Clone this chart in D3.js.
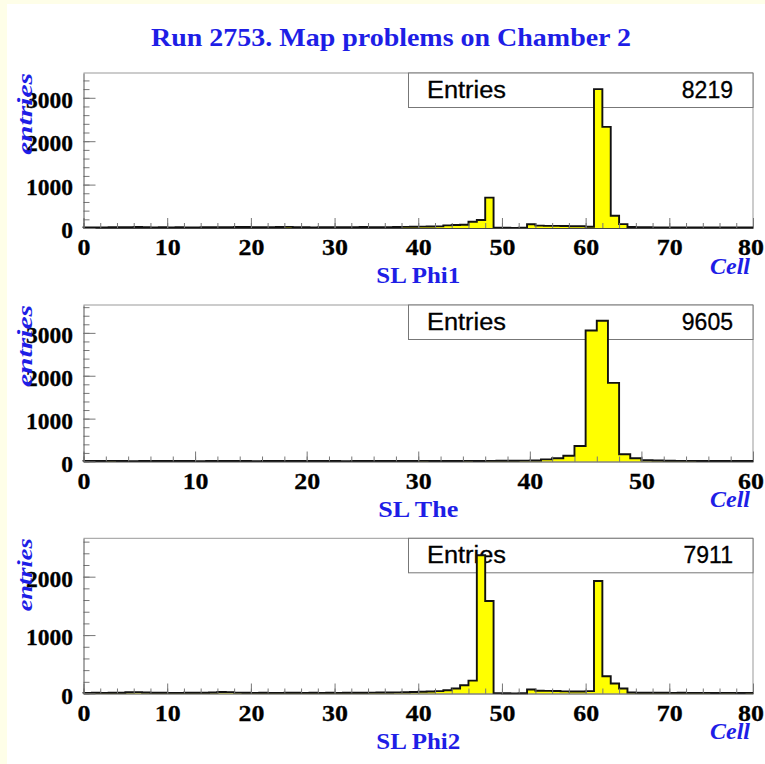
<!DOCTYPE html>
<html><head><meta charset="utf-8">
<script src="https://cdn.jsdelivr.net/npm/d3@7"></script>
<style>body{margin:0;background:#fefee8}svg{display:block}</style>
</head><body>
<script>
// ---------------- data ----------------
const chartTitle = "Run 2753. Map problems on Chamber 2";
const panelNames = ["SL Phi1", "SL The", "SL Phi2"];
const xAxisName = "Cell";
const yAxisName = "entries";
const entryCounts = ["8219", "9605", "7911"];
const cellRanges = [80, 60, 80];
const yAxisMax = [3571, 3650, 2657];
const xMajorTicks = [[0,10,20,30,40,50,60,70,80],[0,10,20,30,40,50,60],[0,10,20,30,40,50,60,70,80]];
const yMajorTicks = [[0,1000,2000,3000],[0,1000,2000,3000],[0,1000,2000]];

const phi1Counts = [
  12,15,14,18,16,20,22,18,15,17, 14,16,13,15,18,20,17,19,22,24,
  20,18,16,22,25,20,18,15,17,19, 16,18,20,22,19,17,21,24,26,28,
  32,35,38,60,68,75,145,185,700,8, 5,4,6,85,55,50,48,45,42,40,
  30,3200,2330,283,90,22,18,16,15,14, 13,12,14,12,11,12,10,11,12,10
];
const theCounts = [
  12,10,14,11,9,13,12,10,11,12, 9,10,12,11,10,9,12,13,11,10,
  12,11,10,9,11,13,12,10,11,12, 14,12,11,13,15,12,14,16,18,20,
  22,50,75,135,360,3056,3283,1834,168,75, 30,22,18,15,14,12,13,11,10,12
];
const phi2Counts = [
  10,12,11,13,14,22,24,18,14,12, 11,10,12,13,14,18,26,24,15,12,
  11,12,10,11,13,12,11,12,10,12, 11,13,12,14,15,16,18,20,22,25,
  30,35,40,56,85,141,221,2368,1584,6, 4,3,5,68,48,45,42,36,34,35,
  40,1925,295,170,85,16,14,13,12,12, 11,12,10,11,10,9,11,10,9,10
];
const panelCounts = [phi1Counts, theCounts, phi2Counts];

// ---------------- layout ----------------
const W = 765, H = 764;
const plotLeft = 83.5, plotRight = 753;
const plotTops = [73, 305, 538.3];
const plotBottoms = [228, 461.5, 693.5];
const entriesLen = [82, 82, 73];
const nameLen = [84, 80, 84];
const BLUE = "#1e1ee6";
const SERIF = "'Liberation Serif','Times New Roman',serif";
const SANS = "'Liberation Sans',Arial,Helvetica,sans-serif";

const svg = d3.select("body").append("svg").attr("width", W).attr("height", H);
svg.append("rect").attr("x", 0).attr("y", 0).attr("width", W).attr("height", H).attr("fill", "#fefee8");
svg.append("rect").attr("x", 7).attr("y", 4).attr("width", W - 7).attr("height", H - 4).attr("fill", "#ffffff");

svg.append("text").attr("x", 391).attr("y", 46)
  .attr("text-anchor", "middle").attr("font-family", SERIF).attr("font-weight", "bold")
  .attr("font-size", 26).attr("fill", BLUE)
  .attr("textLength", 480).attr("lengthAdjust", "spacingAndGlyphs")
  .text(chartTitle);

panelCounts.forEach((counts, p) => {
  const top = plotTops[p], bottom = plotBottoms[p];
  const x = d3.scaleLinear().domain([0, cellRanges[p]]).range([plotLeft, plotRight]);
  const y = d3.scaleLinear().domain([0, yAxisMax[p]]).range([bottom, top]);
  const g = svg.append("g");

  // frame
  g.append("rect").attr("x", plotLeft).attr("y", top)
    .attr("width", plotRight - plotLeft).attr("height", bottom - top).attr("fill", "#fff");
  g.append("path").attr("d", `M${plotLeft},${top}H${plotRight}V${bottom}`)
    .attr("fill", "none").attr("stroke", "#999").attr("stroke-width", 1);

  // stats box
  const bx = 408.5, bh = 34.5;
  g.append("rect").attr("x", bx).attr("y", top).attr("width", plotRight - bx).attr("height", bh)
    .attr("fill", "#fff").attr("stroke", "#777").attr("stroke-width", 1);
  g.append("text").attr("x", 427).attr("y", top + 24.7)
    .attr("font-family", SANS).attr("font-size", 23).attr("fill", "#000")
    .attr("stroke", "#000").attr("stroke-width", 0.3)
    .attr("textLength", 79).attr("lengthAdjust", "spacingAndGlyphs").text("Entries");
  g.append("text").attr("x", 733).attr("y", top + 24.7).attr("text-anchor", "end")
    .attr("font-family", SANS).attr("font-size", 23).attr("fill", "#000")
    .attr("stroke", "#000").attr("stroke-width", 0.3).text(entryCounts[p]);

  // histogram
  const pts = [[0, 0]];
  counts.forEach((v, i) => { pts.push([i, v]); pts.push([i + 1, v]); });
  pts.push([cellRanges[p], 0]);
  g.append("path").datum(pts)
    .attr("d", d3.area().x(d => x(d[0])).y0(y(0)).y1(d => y(d[1])))
    .attr("fill", "#ffff00");
  g.append("path").datum(pts)
    .attr("d", d3.line().x(d => x(d[0])).y(d => y(d[1])))
    .attr("fill", "none").attr("stroke", "#111").attr("stroke-width", 1.9);

  // minor ticks
  const xMinor = d3.range(0, cellRanges[p] + 0.001, 2);
  const yMinor = d3.range(0, yAxisMax[p], 200);
  g.append("g").attr("transform", `translate(0,${bottom})`)
    .call(d3.axisBottom(x).tickValues(xMinor).tickSizeInner(-5).tickSizeOuter(0).tickFormat(""))
    .call(a => a.select(".domain").remove())
    .call(a => a.selectAll("line").attr("stroke", "#777"));
  g.append("g").attr("transform", `translate(${plotLeft},0)`)
    .call(d3.axisLeft(y).tickValues(yMinor).tickSizeInner(-6).tickSizeOuter(0).tickFormat(""))
    .call(a => a.select(".domain").remove())
    .call(a => a.selectAll("line").attr("stroke", "#777"));

  // major x axis
  const xMax = cellRanges[p];
  g.append("g").attr("transform", `translate(0,${bottom})`)
    .call(d3.axisBottom(x).tickValues(xMajorTicks[p]).tickSizeInner(-10).tickSizeOuter(0).tickPadding(10.2).tickFormat(d3.format("d")))
    .call(a => a.select(".domain").attr("stroke", "#444"))
    .call(a => a.selectAll("line").attr("stroke", "#777"))
    .call(a => a.selectAll("text").attr("font-family", SERIF).attr("font-weight", "bold")
      .attr("font-size", 24).attr("fill", "#000").attr("stroke", "#000").attr("stroke-width", 0.3)
      .attr("transform", "scale(1.08,1)"))
    .call(a => a.selectAll(".tick").filter(d => d === xMax).select("text")
      .attr("text-anchor", "end").attr("x", (W - 1.5 - plotRight) / 1.08));

  // major y axis
  g.append("g").attr("transform", `translate(${plotLeft},0)`)
    .call(d3.axisLeft(y).tickValues(yMajorTicks[p]).tickSizeInner(-12).tickSizeOuter(0).tickPadding(10.5).tickFormat(d3.format("d")))
    .call(a => a.select(".domain").attr("stroke", "#555"))
    .call(a => a.selectAll("line").attr("stroke", "#777"))
    .call(a => a.selectAll("text").attr("font-family", SERIF).attr("font-weight", "bold")
      .attr("font-size", 23.5).attr("fill", "#000").attr("stroke", "#000").attr("stroke-width", 0.3)
      .attr("dy", "0.41em"));

  // axis titles
  g.append("text").attr("x", (plotLeft + plotRight) / 2).attr("y", bottom + 55)
    .attr("text-anchor", "middle").attr("font-family", SERIF).attr("font-weight", "bold")
    .attr("font-size", 23).attr("fill", BLUE)
    .attr("textLength", nameLen[p]).attr("lengthAdjust", "spacingAndGlyphs")
    .text(panelNames[p]);
  g.append("text").attr("x", 750).attr("y", bottom + 45.5)
    .attr("text-anchor", "end").attr("font-family", SERIF).attr("font-weight", "bold")
    .attr("font-style", "italic").attr("font-size", 23).attr("fill", BLUE)
    .attr("textLength", 40).attr("lengthAdjust", "spacingAndGlyphs").text(xAxisName);
  g.append("text").attr("transform", `translate(31.5,${top}) rotate(-90)`)
    .attr("text-anchor", "end").attr("font-family", SERIF).attr("font-weight", "bold")
    .attr("font-style", "italic").attr("font-size", 22).attr("fill", BLUE)
    .attr("textLength", entriesLen[p]).attr("lengthAdjust", "spacingAndGlyphs").text(yAxisName);
});
</script>
</body></html>
